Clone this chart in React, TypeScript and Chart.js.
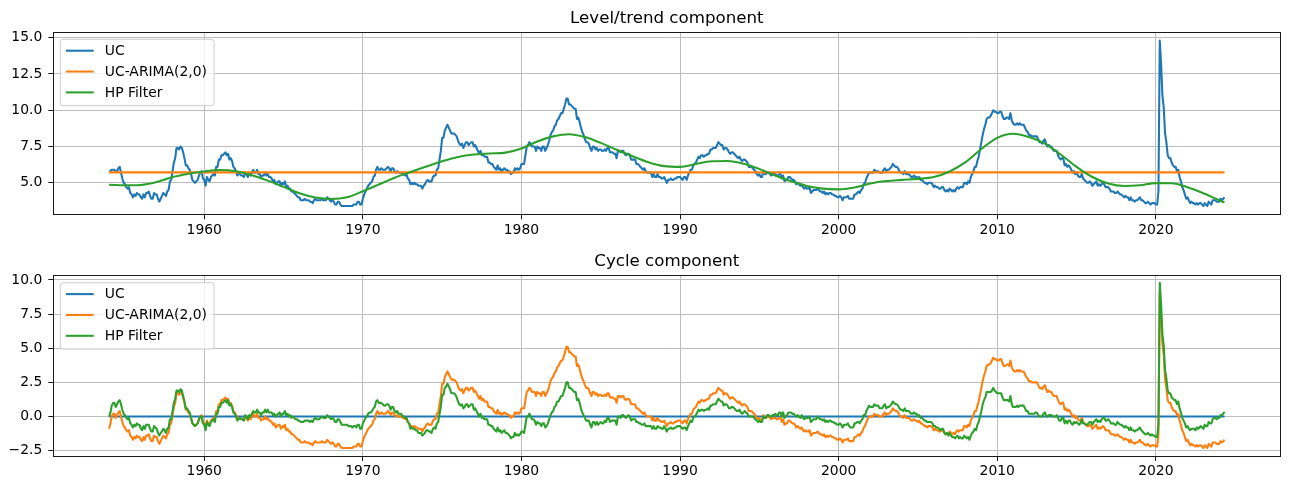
import React, { useEffect, useRef } from "react";
import { Chart, registerables } from "chart.js";

Chart.register(...registerables);

const FONT = "'DejaVu Sans', 'Liberation Sans', sans-serif";
Chart.defaults.font.family = FONT;

// ---------- data ----------
const FIRST_YEAR = 1954; // monthly series start Jan 1954, end May 2024
const SERIES_NAMES = ["UC", "UC-ARIMA(2,0)", "HP Filter"];
const COLORS = ["#1f77b4", "#ff7f0e", "#2ca02c"];
const TITLES = ["Level/trend component", "Cycle component"];
const X_TICKS = [1960, 1970, 1980, 1990, 2000, 2010, 2020];
const TOP_Y_TICKS = [5.0, 7.5, 10.0, 12.5, 15.0];
const BOTTOM_Y_TICKS = [-2.5, 0.0, 2.5, 5.0, 7.5, 10.0];

// Top panel, UC level (monthly)
const ucLevel = [
  5.8, 5.8, 5.9, 5.9, 5.9, 5.8, 5.8, 6.0, 6.1, 5.7, 5.3, 5.0, // 1954
  4.9, 4.7, 4.6, 4.7, 4.3, 4.2, 4.0, 4.2, 4.1, 4.3, 4.2, 4.2,
  4.0, 3.9, 4.2, 4.0, 4.3, 4.3, 4.4, 4.1, 3.9, 3.9, 4.3, 4.2,
  4.2, 3.9, 3.7, 3.9, 4.1, 4.3, 4.2, 4.1, 4.4, 4.5, 5.1, 5.2,
  5.8, 6.4, 6.7, 7.4, 7.4, 7.3, 7.5, 7.4, 7.1, 6.7, 6.2, 6.2,
  6.0, 5.9, 5.6, 5.2, 5.1, 5.0, 5.1, 5.2, 5.5, 5.7, 5.8, 5.3,
  5.2, 4.8, 5.4, 5.2, 5.1, 5.4, 5.5, 5.6, 5.5, 6.1, 6.1, 6.6, // 1960
  6.6, 6.9, 6.9, 7.0, 7.1, 6.9, 7.0, 6.6, 6.7, 6.5, 6.1, 6.0,
  5.8, 5.5, 5.6, 5.6, 5.5, 5.5, 5.4, 5.7, 5.6, 5.4, 5.7, 5.5,
  5.7, 5.9, 5.7, 5.7, 5.9, 5.6, 5.6, 5.4, 5.5, 5.5, 5.7, 5.5,
  5.6, 5.4, 5.4, 5.3, 5.1, 5.2, 4.9, 5.0, 5.1, 5.1, 4.8, 5.0,
  4.9, 5.1, 4.7, 4.8, 4.6, 4.6, 4.4, 4.4, 4.3, 4.2, 4.1, 4.0,
  4.0, 3.8, 3.8, 3.8, 3.9, 3.8, 3.8, 3.8, 3.7, 3.7, 3.6, 3.8,
  3.9, 3.8, 3.8, 3.8, 3.8, 3.9, 3.8, 3.8, 3.8, 4.0, 3.9, 3.8,
  3.7, 3.8, 3.7, 3.5, 3.5, 3.7, 3.7, 3.5, 3.4, 3.4, 3.4, 3.4,
  3.4, 3.4, 3.4, 3.4, 3.4, 3.5, 3.5, 3.5, 3.7, 3.7, 3.5, 3.5,
  3.9, 4.2, 4.4, 4.6, 4.8, 4.9, 5.0, 5.1, 5.4, 5.5, 5.9, 6.1, // 1970
  5.9, 5.9, 6.0, 5.9, 5.9, 5.9, 6.0, 6.1, 6.0, 5.8, 6.0, 6.0,
  5.8, 5.7, 5.8, 5.7, 5.7, 5.7, 5.6, 5.6, 5.5, 5.6, 5.3, 5.2,
  4.9, 5.0, 4.9, 5.0, 4.9, 4.9, 4.8, 4.8, 4.8, 4.6, 4.8, 4.9,
  5.1, 5.2, 5.1, 5.1, 5.1, 5.4, 5.5, 5.5, 5.9, 6.0, 6.6, 7.2,
  8.1, 8.1, 8.6, 8.8, 9.0, 8.8, 8.6, 8.4, 8.4, 8.4, 8.3, 8.2,
  7.9, 7.7, 7.6, 7.7, 7.4, 7.6, 7.8, 7.8, 7.6, 7.7, 7.8, 7.8,
  7.5, 7.6, 7.4, 7.2, 7.0, 7.2, 6.9, 7.0, 6.8, 6.8, 6.8, 6.4,
  6.4, 6.3, 6.3, 6.1, 6.0, 5.9, 6.2, 5.9, 6.0, 5.8, 5.9, 6.0,
  5.9, 5.9, 5.8, 5.8, 5.6, 5.7, 5.7, 6.0, 5.9, 6.0, 5.9, 6.0,
  6.3, 6.3, 6.3, 6.9, 7.5, 7.6, 7.8, 7.7, 7.5, 7.5, 7.5, 7.2, // 1980
  7.5, 7.4, 7.4, 7.2, 7.5, 7.5, 7.2, 7.4, 7.6, 7.9, 8.3, 8.5,
  8.6, 8.9, 9.0, 9.3, 9.4, 9.6, 9.8, 9.8, 10.1, 10.4, 10.8, 10.8,
  10.4, 10.4, 10.3, 10.2, 10.1, 10.1, 9.4, 9.5, 9.2, 8.8, 8.5, 8.3,
  8.0, 7.8, 7.8, 7.7, 7.4, 7.2, 7.5, 7.5, 7.3, 7.4, 7.2, 7.3,
  7.3, 7.2, 7.2, 7.3, 7.2, 7.4, 7.4, 7.1, 7.1, 7.1, 7.0, 7.0,
  6.7, 7.2, 7.2, 7.1, 7.2, 7.2, 7.0, 6.9, 7.0, 7.0, 6.9, 6.6,
  6.6, 6.6, 6.6, 6.3, 6.3, 6.2, 6.1, 6.0, 5.9, 6.0, 5.8, 5.7,
  5.7, 5.7, 5.7, 5.4, 5.6, 5.4, 5.4, 5.6, 5.4, 5.4, 5.3, 5.3,
  5.4, 5.2, 5.0, 5.2, 5.2, 5.3, 5.2, 5.2, 5.3, 5.3, 5.4, 5.4,
  5.4, 5.3, 5.2, 5.4, 5.4, 5.2, 5.5, 5.7, 5.9, 5.9, 6.2, 6.3, // 1990
  6.4, 6.6, 6.8, 6.7, 6.9, 6.9, 6.8, 6.9, 6.9, 7.0, 7.0, 7.3,
  7.3, 7.4, 7.4, 7.4, 7.6, 7.8, 7.7, 7.6, 7.6, 7.3, 7.4, 7.4,
  7.3, 7.1, 7.0, 7.1, 7.1, 7.0, 6.9, 6.8, 6.7, 6.8, 6.6, 6.5,
  6.6, 6.6, 6.5, 6.4, 6.1, 6.1, 6.1, 6.0, 5.9, 5.8, 5.6, 5.5,
  5.6, 5.4, 5.4, 5.8, 5.6, 5.6, 5.7, 5.7, 5.6, 5.5, 5.6, 5.6,
  5.6, 5.5, 5.5, 5.6, 5.6, 5.3, 5.5, 5.1, 5.2, 5.2, 5.4, 5.4,
  5.3, 5.2, 5.2, 5.1, 4.9, 5.0, 4.9, 4.8, 4.9, 4.7, 4.6, 4.7,
  4.6, 4.6, 4.7, 4.3, 4.4, 4.5, 4.5, 4.5, 4.6, 4.5, 4.4, 4.4,
  4.3, 4.4, 4.2, 4.3, 4.2, 4.3, 4.3, 4.2, 4.2, 4.1, 4.1, 4.0,
  4.0, 4.1, 4.0, 3.8, 4.0, 4.0, 4.0, 4.1, 3.9, 3.9, 3.9, 3.9, // 2000
  4.2, 4.2, 4.3, 4.4, 4.3, 4.5, 4.6, 4.9, 5.0, 5.3, 5.5, 5.7,
  5.7, 5.7, 5.7, 5.9, 5.8, 5.8, 5.8, 5.7, 5.7, 5.7, 5.9, 6.0,
  5.8, 5.9, 5.9, 6.0, 6.1, 6.3, 6.2, 6.1, 6.1, 6.0, 5.8, 5.7,
  5.7, 5.6, 5.8, 5.6, 5.6, 5.6, 5.5, 5.4, 5.4, 5.5, 5.4, 5.4,
  5.3, 5.4, 5.2, 5.2, 5.1, 5.0, 5.0, 4.9, 5.0, 5.0, 5.0, 4.9,
  4.7, 4.8, 4.7, 4.7, 4.6, 4.6, 4.7, 4.7, 4.5, 4.4, 4.5, 4.4,
  4.6, 4.5, 4.4, 4.5, 4.4, 4.6, 4.7, 4.6, 4.7, 4.7, 4.7, 5.0,
  5.0, 4.9, 5.1, 5.0, 5.4, 5.6, 5.8, 6.1, 6.1, 6.5, 6.8, 7.3,
  7.8, 8.3, 8.7, 9.0, 9.4, 9.5, 9.5, 9.6, 9.8, 10.0, 9.9, 9.9,
  9.8, 9.8, 9.9, 9.9, 9.6, 9.4, 9.4, 9.5, 9.5, 9.4, 9.8, 9.3, // 2010
  9.1, 9.0, 9.0, 9.1, 9.0, 9.1, 9.0, 9.0, 9.0, 8.8, 8.6, 8.5,
  8.3, 8.3, 8.2, 8.2, 8.2, 8.2, 8.2, 8.0, 7.8, 7.8, 7.7, 7.9,
  8.0, 7.7, 7.5, 7.6, 7.5, 7.5, 7.3, 7.2, 7.2, 7.2, 6.9, 6.7,
  6.6, 6.7, 6.7, 6.2, 6.3, 6.1, 6.2, 6.1, 5.9, 5.7, 5.8, 5.6,
  5.7, 5.5, 5.4, 5.4, 5.6, 5.3, 5.2, 5.1, 5.0, 5.0, 5.1, 5.0,
  4.8, 4.9, 5.0, 5.1, 4.8, 4.9, 4.8, 4.9, 5.0, 4.9, 4.7, 4.7,
  4.7, 4.6, 4.4, 4.4, 4.4, 4.3, 4.3, 4.4, 4.3, 4.2, 4.2, 4.1,
  4.0, 4.1, 4.0, 4.0, 3.8, 4.0, 3.8, 3.8, 3.7, 3.8, 3.8, 3.9,
  4.0, 3.8, 3.8, 3.7, 3.6, 3.6, 3.7, 3.6, 3.5, 3.6, 3.6, 3.6,
  3.5, 3.5, 4.4, 14.8, 13.2, 11.0, 10.2, 8.4, 7.8, 6.9, 6.7, 6.7, // 2020
  6.4, 6.2, 6.1, 6.1, 5.8, 5.9, 5.4, 5.1, 4.7, 4.5, 4.2, 3.9,
  4.0, 3.8, 3.6, 3.7, 3.6, 3.6, 3.5, 3.6, 3.5, 3.6, 3.6, 3.5,
  3.4, 3.6, 3.5, 3.4, 3.7, 3.6, 3.5, 3.8, 3.8, 3.8, 3.7, 3.7,
  3.7, 3.9, 3.8, 3.9, 4.0,
];

// Top panel, UC-ARIMA(2,0) level: flat, first and last month
const arimaLevel = [5.72, 5.72];

// Top panel, HP filter trend, read at each January (last point May 2024)
const hpTrendYears = [
  1954, 1955, 1956, 1957, 1958, 1959, 1960, 1961, 1962, 1963, 1964, 1965,
  1966, 1967, 1968, 1969, 1970, 1971, 1972, 1973, 1974, 1975, 1976, 1977,
  1978, 1979, 1980, 1981, 1982, 1983, 1984, 1985, 1986, 1987, 1988, 1989,
  1990, 1991, 1992, 1993, 1994, 1995, 1996, 1997, 1998, 1999, 2000, 2001,
  2002, 2003, 2004, 2005, 2006, 2007, 2008, 2009, 2010, 2011, 2012, 2013,
  2014, 2015, 2016, 2017, 2018, 2019, 2020, 2021, 2022, 2023, 2024, 2024.333,
];
const hpTrend = [
  4.87, 4.83, 4.85, 5.05, 5.4, 5.62, 5.78, 5.88, 5.8, 5.52, 5.15, 4.72,
  4.28, 3.99, 3.89, 4.0, 4.42, 4.88, 5.35, 5.74, 6.12, 6.48, 6.78, 6.95,
  7.02, 7.08, 7.36, 7.85, 8.2, 8.35, 8.15, 7.75, 7.28, 6.83, 6.42, 6.15,
  6.1, 6.3, 6.48, 6.5, 6.32, 5.96, 5.5, 5.1, 4.78, 4.6, 4.55, 4.68,
  4.95, 5.12, 5.2, 5.27, 5.4, 5.78, 6.42, 7.33, 8.1, 8.38, 8.15, 7.7,
  6.95, 6.1, 5.4, 4.95, 4.78, 4.83, 4.98, 4.97, 4.7, 4.28, 3.8, 3.65,
];

// Bottom panel, UC cycle: flat at zero, first and last month
const ucCycle = [0, 0];

// Bottom panel, UC-ARIMA(2,0) cycle (monthly)
const arimaCycle = [
  -0.9, -0.5, 0.0, 0.2, 0.2, -0.1, 0.1, 0.3, 0.4, 0.0, -0.4, -0.7, // 1954
  -0.8, -1.0, -1.1, -1.0, -1.4, -1.5, -1.7, -1.5, -1.6, -1.4, -1.5, -1.5,
  -1.7, -1.8, -1.5, -1.7, -1.4, -1.4, -1.3, -1.6, -1.8, -1.8, -1.4, -1.5,
  -1.5, -1.8, -2.0, -1.8, -1.6, -1.4, -1.5, -1.6, -1.3, -1.2, -0.6, -0.5,
  0.1, 0.7, 1.0, 1.7, 1.7, 1.6, 1.8, 1.7, 1.4, 1.0, 0.5, 0.5,
  0.3, 0.2, -0.1, -0.5, -0.6, -0.7, -0.6, -0.5, -0.2, 0.0, 0.1, -0.4,
  -0.5, -0.9, -0.3, -0.5, -0.6, -0.3, -0.2, -0.1, -0.2, 0.4, 0.4, 0.9, // 1960
  0.9, 1.2, 1.2, 1.3, 1.4, 1.2, 1.3, 0.9, 1.0, 0.8, 0.4, 0.3,
  0.1, -0.2, -0.1, -0.1, -0.2, -0.2, -0.3, 0.0, -0.1, -0.3, 0.0, -0.2,
  0.0, 0.2, 0.0, 0.0, 0.2, -0.1, -0.1, -0.3, -0.2, -0.2, 0.0, -0.2,
  -0.1, -0.3, -0.3, -0.4, -0.6, -0.5, -0.8, -0.7, -0.6, -0.6, -0.9, -0.7,
  -0.8, -0.6, -1.0, -0.9, -1.1, -1.1, -1.3, -1.3, -1.4, -1.5, -1.6, -1.7,
  -1.7, -1.9, -1.9, -1.9, -1.8, -1.9, -1.9, -1.9, -2.0, -2.0, -2.1, -1.9,
  -1.8, -1.9, -1.9, -1.9, -1.9, -1.8, -1.9, -1.9, -1.9, -1.7, -1.8, -1.9,
  -2.0, -1.9, -2.0, -2.2, -2.2, -2.0, -2.0, -2.2, -2.3, -2.3, -2.3, -2.3,
  -2.3, -2.3, -2.3, -2.3, -2.3, -2.2, -2.2, -2.2, -2.0, -2.0, -2.2, -2.2,
  -1.8, -1.5, -1.3, -1.1, -0.9, -0.8, -0.7, -0.6, -0.3, -0.2, 0.2, 0.4, // 1970
  0.2, 0.2, 0.3, 0.2, 0.2, 0.2, 0.3, 0.4, 0.3, 0.1, 0.3, 0.3,
  0.1, 0.0, 0.1, 0.0, 0.0, 0.0, -0.1, -0.1, -0.2, -0.1, -0.4, -0.5,
  -0.8, -0.7, -0.8, -0.7, -0.8, -0.8, -0.9, -0.9, -0.9, -1.1, -0.9, -0.8,
  -0.6, -0.5, -0.6, -0.6, -0.6, -0.3, -0.2, -0.2, 0.2, 0.3, 0.9, 1.5,
  2.4, 2.4, 2.9, 3.1, 3.3, 3.1, 2.9, 2.7, 2.7, 2.7, 2.6, 2.5,
  2.2, 2.0, 1.9, 2.0, 1.7, 1.9, 2.1, 2.1, 1.9, 2.0, 2.1, 2.1,
  1.8, 1.9, 1.7, 1.5, 1.3, 1.5, 1.2, 1.3, 1.1, 1.1, 1.1, 0.7,
  0.7, 0.6, 0.6, 0.4, 0.3, 0.2, 0.5, 0.2, 0.3, 0.1, 0.2, 0.3,
  0.2, 0.2, 0.1, 0.1, -0.1, 0.0, 0.0, 0.3, 0.2, 0.3, 0.2, 0.3,
  0.6, 0.6, 0.6, 1.2, 1.8, 1.9, 2.1, 2.0, 1.8, 1.8, 1.8, 1.5, // 1980
  1.8, 1.7, 1.7, 1.5, 1.8, 1.8, 1.5, 1.7, 1.9, 2.2, 2.6, 2.8,
  2.9, 3.2, 3.3, 3.6, 3.7, 3.9, 4.1, 4.1, 4.4, 4.7, 5.1, 5.1,
  4.7, 4.7, 4.6, 4.5, 4.4, 4.4, 3.7, 3.8, 3.5, 3.1, 2.8, 2.6,
  2.3, 2.1, 2.1, 2.0, 1.7, 1.5, 1.8, 1.8, 1.6, 1.7, 1.5, 1.6,
  1.6, 1.5, 1.5, 1.6, 1.5, 1.7, 1.7, 1.4, 1.4, 1.4, 1.3, 1.3,
  1.0, 1.5, 1.5, 1.4, 1.5, 1.5, 1.3, 1.2, 1.3, 1.3, 1.2, 0.9,
  0.9, 0.9, 0.9, 0.6, 0.6, 0.5, 0.4, 0.3, 0.2, 0.3, 0.1, 0.0,
  0.0, 0.0, 0.0, -0.3, -0.1, -0.3, -0.3, -0.1, -0.3, -0.3, -0.4, -0.4,
  -0.3, -0.5, -0.7, -0.5, -0.5, -0.4, -0.5, -0.5, -0.4, -0.4, -0.3, -0.3,
  -0.3, -0.4, -0.5, -0.3, -0.3, -0.5, -0.2, 0.0, 0.2, 0.2, 0.5, 0.6, // 1990
  0.7, 0.9, 1.1, 1.0, 1.2, 1.2, 1.1, 1.2, 1.2, 1.3, 1.3, 1.6,
  1.6, 1.7, 1.7, 1.7, 1.9, 2.1, 2.0, 1.9, 1.9, 1.6, 1.7, 1.7,
  1.6, 1.4, 1.3, 1.4, 1.4, 1.3, 1.2, 1.1, 1.0, 1.1, 0.9, 0.8,
  0.9, 0.9, 0.8, 0.7, 0.4, 0.4, 0.4, 0.3, 0.2, 0.1, -0.1, -0.2,
  -0.1, -0.3, -0.3, 0.1, -0.1, -0.1, 0.0, 0.0, -0.1, -0.2, -0.1, -0.1,
  -0.1, -0.2, -0.2, -0.1, -0.1, -0.4, -0.2, -0.6, -0.5, -0.5, -0.3, -0.3,
  -0.4, -0.5, -0.5, -0.6, -0.8, -0.7, -0.8, -0.9, -0.8, -1.0, -1.1, -1.0,
  -1.1, -1.1, -1.0, -1.4, -1.3, -1.2, -1.2, -1.2, -1.1, -1.2, -1.3, -1.3,
  -1.4, -1.3, -1.5, -1.4, -1.5, -1.4, -1.4, -1.5, -1.5, -1.6, -1.6, -1.7,
  -1.7, -1.6, -1.7, -1.9, -1.7, -1.7, -1.7, -1.6, -1.8, -1.8, -1.8, -1.8, // 2000
  -1.5, -1.5, -1.4, -1.3, -1.4, -1.2, -1.1, -0.8, -0.7, -0.4, -0.2, 0.0,
  0.0, 0.0, 0.0, 0.2, 0.1, 0.1, 0.1, 0.0, 0.0, 0.0, 0.2, 0.3,
  0.1, 0.2, 0.2, 0.3, 0.4, 0.6, 0.5, 0.4, 0.4, 0.3, 0.1, 0.0,
  0.0, -0.1, 0.1, -0.1, -0.1, -0.1, -0.2, -0.3, -0.3, -0.2, -0.3, -0.3,
  -0.4, -0.3, -0.5, -0.5, -0.6, -0.7, -0.7, -0.8, -0.7, -0.7, -0.7, -0.8,
  -1.0, -0.9, -1.0, -1.0, -1.1, -1.1, -1.0, -1.0, -1.2, -1.3, -1.2, -1.3,
  -1.1, -1.2, -1.3, -1.2, -1.3, -1.1, -1.0, -1.1, -1.0, -1.0, -1.0, -0.7,
  -0.7, -0.8, -0.6, -0.7, -0.3, -0.1, 0.1, 0.4, 0.4, 0.8, 1.1, 1.6,
  2.1, 2.6, 3.0, 3.3, 3.7, 3.8, 3.8, 3.9, 4.1, 4.3, 4.2, 4.2,
  4.1, 4.1, 4.2, 4.2, 3.9, 3.7, 3.7, 3.8, 3.8, 3.7, 4.1, 3.6, // 2010
  3.4, 3.3, 3.3, 3.4, 3.3, 3.4, 3.3, 3.3, 3.3, 3.1, 2.9, 2.8,
  2.6, 2.6, 2.5, 2.5, 2.5, 2.5, 2.5, 2.3, 2.1, 2.1, 2.0, 2.2,
  2.3, 2.0, 1.8, 1.9, 1.8, 1.8, 1.6, 1.5, 1.5, 1.5, 1.2, 1.0,
  0.9, 1.0, 1.0, 0.5, 0.6, 0.4, 0.5, 0.4, 0.2, 0.0, 0.1, -0.1,
  0.0, -0.2, -0.3, -0.3, -0.1, -0.4, -0.5, -0.6, -0.7, -0.7, -0.6, -0.7,
  -0.9, -0.8, -0.7, -0.6, -0.9, -0.8, -0.9, -0.8, -0.7, -0.8, -1.0, -1.0,
  -1.0, -1.1, -1.3, -1.3, -1.3, -1.4, -1.4, -1.3, -1.4, -1.5, -1.5, -1.6,
  -1.7, -1.6, -1.7, -1.7, -1.9, -1.7, -1.9, -1.9, -2.0, -1.9, -1.9, -1.8,
  -1.7, -1.9, -1.9, -2.0, -2.1, -2.1, -2.0, -2.1, -2.2, -2.1, -2.1, -2.1,
  -2.2, -2.2, -1.3, 9.1, 7.5, 5.3, 4.5, 2.7, 2.1, 1.2, 1.0, 1.0, // 2020
  0.7, 0.5, 0.4, 0.4, 0.1, 0.2, -0.3, -0.6, -1.0, -1.2, -1.5, -1.8,
  -1.7, -1.9, -2.1, -2.0, -2.1, -2.1, -2.2, -2.1, -2.2, -2.1, -2.1, -2.2,
  -2.3, -2.1, -2.2, -2.3, -2.0, -2.1, -2.2, -1.9, -1.9, -1.9, -2.0, -2.0,
  -2.0, -1.8, -1.9, -1.8, -1.7,
];

// Bottom panel, HP filter cycle (monthly)
const hpCycle = [
  0.0, 0.3, 0.8, 1.0, 1.0, 0.7, 0.9, 1.1, 1.2, 0.9, 0.5, 0.2, // 1954
  0.1, -0.1, -0.2, -0.1, -0.5, -0.6, -0.8, -0.6, -0.7, -0.5, -0.6, -0.6,
  -0.9, -1.0, -0.7, -0.9, -0.6, -0.6, -0.6, -0.9, -1.1, -1.1, -0.7, -0.8,
  -0.9, -1.2, -1.4, -1.2, -1.1, -0.9, -1.0, -1.2, -0.9, -0.8, -0.2, -0.2,
  0.4, 1.0, 1.3, 1.9, 1.9, 1.8, 2.0, 1.9, 1.5, 1.1, 0.6, 0.6,
  0.4, 0.3, -0.1, -0.5, -0.6, -0.7, -0.6, -0.5, -0.2, 0.0, 0.0, -0.5,
  -0.6, -1.0, -0.4, -0.6, -0.7, -0.4, -0.3, -0.2, -0.4, 0.2, 0.2, 0.7, // 1960
  0.7, 1.0, 1.0, 1.1, 1.2, 1.0, 1.2, 0.8, 0.9, 0.7, 0.3, 0.2,
  0.0, -0.3, -0.2, -0.1, -0.2, -0.2, -0.3, 0.1, 0.0, -0.2, 0.1, 0.0,
  0.2, 0.4, 0.3, 0.3, 0.5, 0.3, 0.3, 0.1, 0.3, 0.3, 0.5, 0.3,
  0.5, 0.3, 0.3, 0.3, 0.1, 0.2, 0.0, 0.1, 0.2, 0.3, 0.0, 0.2,
  0.2, 0.4, 0.1, 0.2, 0.0, 0.1, -0.1, 0.0, -0.1, -0.2, -0.2, -0.3,
  -0.3, -0.4, -0.4, -0.4, -0.3, -0.3, -0.3, -0.3, -0.4, -0.3, -0.4, -0.2,
  -0.1, -0.2, -0.2, -0.2, -0.1, 0.0, -0.1, -0.1, -0.1, 0.1, 0.0, -0.1,
  -0.2, -0.1, -0.2, -0.4, -0.4, -0.2, -0.2, -0.4, -0.6, -0.6, -0.6, -0.6,
  -0.6, -0.7, -0.7, -0.7, -0.8, -0.7, -0.7, -0.8, -0.6, -0.6, -0.9, -0.9,
  -0.5, -0.3, -0.1, 0.0, 0.2, 0.3, 0.3, 0.4, 0.6, 0.7, 1.1, 1.2, // 1970
  1.0, 1.0, 1.0, 0.9, 0.8, 0.8, 0.9, 0.9, 0.8, 0.5, 0.7, 0.7,
  0.4, 0.3, 0.4, 0.2, 0.2, 0.2, 0.0, 0.0, -0.1, -0.1, -0.4, -0.5,
  -0.9, -0.8, -0.9, -0.9, -1.0, -1.0, -1.2, -1.2, -1.2, -1.4, -1.3, -1.2,
  -1.0, -1.0, -1.1, -1.1, -1.2, -0.9, -0.8, -0.9, -0.5, -0.4, 0.2, 0.7,
  1.6, 1.6, 2.1, 2.2, 2.4, 2.2, 2.0, 1.7, 1.7, 1.7, 1.6, 1.4,
  1.1, 0.9, 0.8, 0.9, 0.6, 0.7, 0.9, 0.9, 0.7, 0.8, 0.9, 0.9,
  0.5, 0.6, 0.4, 0.2, 0.0, 0.2, -0.1, 0.0, -0.2, -0.2, -0.2, -0.6,
  -0.6, -0.7, -0.7, -0.9, -1.0, -1.1, -0.8, -1.1, -1.0, -1.2, -1.1, -1.0,
  -1.2, -1.2, -1.3, -1.4, -1.6, -1.5, -1.5, -1.2, -1.4, -1.3, -1.4, -1.3,
  -1.1, -1.1, -1.2, -0.6, 0.0, 0.0, 0.2, 0.0, -0.2, -0.2, -0.3, -0.6, // 1980
  -0.4, -0.5, -0.5, -0.7, -0.5, -0.5, -0.8, -0.7, -0.5, -0.2, 0.1, 0.3,
  0.4, 0.7, 0.8, 1.1, 1.1, 1.3, 1.5, 1.5, 1.8, 2.1, 2.5, 2.5,
  2.1, 2.1, 2.0, 1.9, 1.8, 1.8, 1.2, 1.3, 1.0, 0.6, 0.3, 0.1,
  -0.1, -0.3, -0.3, -0.3, -0.6, -0.8, -0.4, -0.4, -0.6, -0.4, -0.6, -0.5,
  -0.4, -0.5, -0.5, -0.3, -0.4, -0.1, -0.1, -0.4, -0.3, -0.3, -0.3, -0.3,
  -0.6, 0.0, 0.0, -0.1, 0.1, 0.1, 0.0, -0.1, 0.0, 0.1, 0.0, -0.3,
  -0.2, -0.2, -0.2, -0.4, -0.4, -0.5, -0.5, -0.6, -0.6, -0.5, -0.7, -0.7,
  -0.7, -0.7, -0.7, -0.9, -0.7, -0.9, -0.9, -0.7, -0.8, -0.8, -0.9, -0.9,
  -0.7, -0.9, -1.1, -0.9, -0.9, -0.8, -0.9, -0.9, -0.8, -0.8, -0.7, -0.7,
  -0.7, -0.8, -0.9, -0.8, -0.8, -1.0, -0.7, -0.5, -0.3, -0.4, -0.1, 0.0, // 1990
  0.1, 0.3, 0.5, 0.4, 0.5, 0.5, 0.4, 0.5, 0.5, 0.6, 0.5, 0.8,
  0.8, 0.9, 0.9, 0.9, 1.1, 1.3, 1.2, 1.1, 1.1, 0.8, 0.9, 0.9,
  0.8, 0.6, 0.6, 0.7, 0.7, 0.6, 0.5, 0.4, 0.4, 0.5, 0.3, 0.2,
  0.3, 0.4, 0.3, 0.2, 0.0, 0.0, 0.0, 0.0, -0.1, -0.2, -0.3, -0.4,
  -0.3, -0.4, -0.4, 0.0, -0.1, -0.1, 0.1, 0.1, 0.0, 0.0, 0.1, 0.1,
  0.2, 0.1, 0.1, 0.3, 0.3, 0.0, 0.3, -0.1, 0.0, 0.1, 0.3, 0.3,
  0.3, 0.2, 0.2, 0.1, 0.0, 0.1, 0.0, -0.1, 0.1, -0.1, -0.2, -0.1,
  -0.1, -0.1, 0.0, -0.4, -0.3, -0.2, -0.2, -0.2, 0.0, -0.1, -0.2, -0.2,
  -0.3, -0.2, -0.4, -0.3, -0.4, -0.3, -0.3, -0.4, -0.4, -0.5, -0.5, -0.6,
  -0.6, -0.5, -0.6, -0.8, -0.6, -0.6, -0.6, -0.5, -0.7, -0.8, -0.8, -0.8, // 2000
  -0.5, -0.5, -0.4, -0.4, -0.5, -0.3, -0.2, 0.1, 0.1, 0.4, 0.6, 0.8,
  0.7, 0.7, 0.7, 0.9, 0.8, 0.8, 0.8, 0.6, 0.6, 0.6, 0.8, 0.9,
  0.6, 0.7, 0.7, 0.8, 0.9, 1.1, 1.0, 0.9, 0.9, 0.8, 0.6, 0.5,
  0.5, 0.4, 0.6, 0.4, 0.4, 0.4, 0.3, 0.2, 0.2, 0.3, 0.2, 0.2,
  0.0, 0.1, -0.1, -0.1, -0.2, -0.3, -0.3, -0.4, -0.4, -0.4, -0.4, -0.5,
  -0.7, -0.7, -0.8, -0.8, -0.9, -1.0, -0.9, -0.9, -1.2, -1.3, -1.2, -1.4,
  -1.2, -1.4, -1.5, -1.5, -1.6, -1.5, -1.4, -1.6, -1.5, -1.6, -1.6, -1.4,
  -1.5, -1.6, -1.5, -1.7, -1.4, -1.2, -1.1, -0.9, -1.0, -0.6, -0.4, 0.0,
  0.4, 0.9, 1.2, 1.4, 1.8, 1.8, 1.8, 1.8, 1.9, 2.1, 1.9, 1.8,
  1.7, 1.7, 1.7, 1.7, 1.4, 1.2, 1.2, 1.2, 1.2, 1.1, 1.5, 0.9, // 2010
  0.7, 0.7, 0.7, 0.8, 0.7, 0.8, 0.8, 0.8, 0.8, 0.6, 0.4, 0.4,
  0.2, 0.2, 0.2, 0.2, 0.2, 0.3, 0.3, 0.1, 0.0, 0.0, 0.0, 0.2,
  0.3, 0.1, 0.0, 0.1, 0.1, 0.1, 0.0, 0.0, 0.0, 0.1, -0.1, -0.3,
  -0.3, -0.1, -0.1, -0.5, -0.3, -0.5, -0.3, -0.3, -0.5, -0.6, -0.4, -0.5,
  -0.4, -0.5, -0.6, -0.5, -0.2, -0.5, -0.5, -0.6, -0.6, -0.5, -0.4, -0.4,
  -0.6, -0.4, -0.3, -0.2, -0.4, -0.3, -0.4, -0.2, -0.1, -0.1, -0.3, -0.3,
  -0.2, -0.3, -0.5, -0.5, -0.5, -0.6, -0.6, -0.4, -0.5, -0.6, -0.6, -0.7,
  -0.8, -0.7, -0.8, -0.8, -1.0, -0.8, -1.0, -1.0, -1.1, -1.0, -1.0, -0.9,
  -0.8, -1.0, -1.1, -1.2, -1.3, -1.3, -1.2, -1.3, -1.4, -1.3, -1.4, -1.4,
  -1.5, -1.5, -0.6, 9.8, 8.2, 6.0, 5.2, 3.4, 2.8, 1.9, 1.7, 1.7, // 2020
  1.4, 1.3, 1.2, 1.2, 0.9, 1.1, 0.6, 0.3, -0.1, -0.3, -0.5, -0.8,
  -0.7, -0.9, -1.0, -0.9, -0.9, -0.9, -1.0, -0.8, -0.9, -0.8, -0.7, -0.8,
  -0.9, -0.6, -0.7, -0.7, -0.4, -0.5, -0.5, -0.2, -0.1, -0.1, -0.2, -0.1,
  -0.1, 0.1, 0.1, 0.2, 0.35,
];

// ---------- helpers ----------
const monthX = (i: number) => FIRST_YEAR + i / 12;
const FIRST_X = monthX(0);
const LAST_X = monthX(ucLevel.length - 1);
const monthly = (arr: number[]) => arr.map((y, i) => ({ x: monthX(i), y }));
const flatSpan = (arr: number[]) => [
  { x: FIRST_X, y: arr[0] },
  { x: LAST_X, y: arr[1] },
];
const fmtTick = (v: number) =>
  v < 0 ? "\u2212" + Math.abs(v).toFixed(1) : v.toFixed(1);

const W = 1289;
const H = 245;
const AX_LEFT = 53.3;
const AX_RIGHT = 1280.3;
const X_MIN = 1950.48;
const X_MAX = 2027.85;

function drawRoundRect(ctx: CanvasRenderingContext2D, x: number, y: number, w: number, h: number, r: number) {
  ctx.beginPath();
  ctx.moveTo(x + r, y);
  ctx.lineTo(x + w - r, y);
  ctx.arcTo(x + w, y, x + w, y + r, r);
  ctx.lineTo(x + w, y + h - r);
  ctx.arcTo(x + w, y + h, x + w - r, y + h, r);
  ctx.lineTo(x + r, y + h);
  ctx.arcTo(x, y + h, x, y + h - r, r);
  ctx.lineTo(x, y + r);
  ctx.arcTo(x, y, x + r, y, r);
  ctx.closePath();
}

const frameAndLegend = {
  id: "frameAndLegend",
  afterDraw(chart: any) {
    const { ctx, chartArea: a } = chart;
    ctx.save();
    // axes frame (all four spines)
    const l = Math.floor(a.left) + 0.5;
    const t = Math.floor(a.top) + 0.5;
    const r = Math.floor(a.right) + 0.5;
    const b = Math.floor(a.bottom) + 0.5;
    ctx.strokeStyle = "#1a1a1a";
    ctx.lineWidth = 1;
    ctx.strokeRect(l, t, r - l, b - t);

    // legend (upper left)
    const fs = 13.9;
    ctx.font = `${fs}px ${FONT}`;
    const ds = chart.data.datasets;
    const maxW = Math.max(...ds.map((d: any) => ctx.measureText(d.label).width));
    const bx = a.left + 7;
    const by = a.top + 7;
    const h0 = bx + 5.6;
    const h1 = h0 + 27.8;
    const tx = h1 + 11.1;
    const bw = tx + maxW + 7 - bx;
    const bh = 66.4;
    drawRoundRect(ctx, bx, by, bw, bh, 2.8);
    ctx.fillStyle = "rgba(255,255,255,0.8)";
    ctx.fill();
    ctx.strokeStyle = "#cccccc";
    ctx.lineWidth = 1;
    ctx.stroke();
    ds.forEach((d: any, i: number) => {
      const y = by + 11.4 + i * 20.85;
      ctx.beginPath();
      ctx.moveTo(h0, y);
      ctx.lineTo(h1, y);
      ctx.strokeStyle = d.borderColor;
      ctx.lineWidth = 2.08;
      ctx.stroke();
      ctx.fillStyle = "#000";
      ctx.textBaseline = "middle";
      ctx.textAlign = "left";
      ctx.fillText(d.label, tx, y + 0.5);
    });
    ctx.restore();
  },
};

function lineDs(label: string, color: string, data: any[], order: number, smooth = false) {
  return {
    label,
    data,
    borderColor: color,
    backgroundColor: color,
    borderWidth: 2.08,
    pointRadius: 0,
    pointHoverRadius: 0,
    fill: false,
    tension: 0,
    order,
    borderJoinStyle: "round",
    ...(smooth ? { cubicInterpolationMode: "monotone" } : {}),
  };
}

type PanelProps = {
  top: number;
  title: string;
  datasets: any[];
  yMin: number;
  yMax: number;
  yTicks: number[];
  titlePad: { top: number; bottom: number };
  xAxisHeight: number;
};

function Panel({ top, title, datasets, yMin, yMax, yTicks, titlePad, xAxisHeight }: PanelProps) {
  const ref = useRef<HTMLCanvasElement>(null);
  useEffect(() => {
    const grid = {
      color: "#bdbdbd",
      lineWidth: 1,
      tickColor: "#1a1a1a",
      tickLength: 5,
      tickWidth: 1,
      drawTicks: true,
    };
    const chart = new Chart(ref.current as HTMLCanvasElement, {
      type: "line",
      data: { datasets },
      options: {
        responsive: false,
        maintainAspectRatio: false,
        animation: false,
        devicePixelRatio: 1,
        events: [],
        layout: { padding: { left: 0, right: W - AX_RIGHT, top: 0, bottom: 0 } },
        plugins: {
          legend: { display: false },
          tooltip: { enabled: false },
          title: {
            display: true,
            text: title,
            fullSize: false,
            color: "#000",
            font: { family: FONT, size: 16.67, weight: "normal", lineHeight: 1.2 },
            padding: titlePad,
          },
        },
        scales: {
          x: {
            type: "linear",
            min: X_MIN,
            max: X_MAX,
            afterBuildTicks: (s: any) => {
              s.ticks = X_TICKS.map((v) => ({ value: v }));
            },
            afterFit: (s: any) => {
              s.height = xAxisHeight;
            },
            ticks: {
              color: "#000",
              font: { family: FONT, size: 13.9 },
              padding: 2.5,
              maxRotation: 0,
              minRotation: 0,
              autoSkip: false,
              callback: (v: any) => String(v),
            },
            grid,
            border: { display: false },
          },
          y: {
            type: "linear",
            min: yMin,
            max: yMax,
            afterBuildTicks: (s: any) => {
              s.ticks = yTicks.map((v) => ({ value: v }));
            },
            afterFit: (s: any) => {
              s.width = AX_LEFT;
            },
            ticks: {
              color: "#000",
              font: { family: FONT, size: 13.9 },
              padding: 6,
              autoSkip: false,
              callback: (v: any) => fmtTick(Number(v)),
            },
            grid,
            border: { display: false },
          },
        },
      } as any,
      plugins: [frameAndLegend],
    });
    return () => chart.destroy();
  }, []);
  return (
    <canvas
      ref={ref}
      width={W}
      height={H}
      style={{ position: "absolute", left: 0, top, width: W, height: H, display: "block" }}
    />
  );
}

export default function App() {
  const topDatasets = [
    lineDs(SERIES_NAMES[0], COLORS[0], monthly(ucLevel), 3),
    lineDs(SERIES_NAMES[1], COLORS[1], flatSpan(arimaLevel), 2),
    lineDs(
      SERIES_NAMES[2],
      COLORS[2],
      hpTrend.map((y, i) => ({ x: hpTrendYears[i], y })),
      1,
      true
    ),
  ];
  const bottomDatasets = [
    lineDs(SERIES_NAMES[0], COLORS[0], flatSpan(ucCycle), 3),
    lineDs(SERIES_NAMES[1], COLORS[1], monthly(arimaCycle), 2),
    lineDs(SERIES_NAMES[2], COLORS[2], monthly(hpCycle), 1),
  ];
  return (
    <div
      style={{
        position: "fixed",
        left: 0,
        top: 0,
        width: W,
        height: 2 * H,
        background: "#fff",
        overflow: "hidden",
      }}
    >
      <Panel
        top={0}
        title={TITLES[0]}
        datasets={topDatasets}
        yMin={2.83}
        yMax={15.37}
        yTicks={TOP_Y_TICKS}
        titlePad={{ top: 8.2, bottom: 4.1 }}
        xAxisHeight={H - 214.3}
      />
      <Panel
        top={H}
        title={TITLES[1]}
        datasets={bottomDatasets}
        yMin={-2.89}
        yMax={10.31}
        yTicks={BOTTOM_Y_TICKS}
        titlePad={{ top: 6.5, bottom: 4.2 }}
        xAxisHeight={H - 211}
      />
    </div>
  );
}
